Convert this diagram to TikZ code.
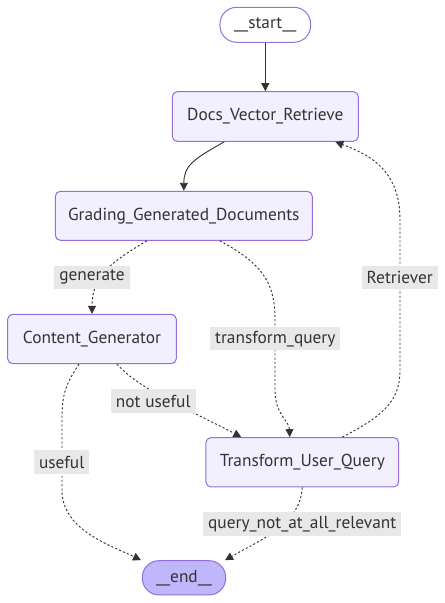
\documentclass[tikz,border=0pt]{standalone}
\usepackage{fontspec}
\setmainfont{PT Sans}
\usetikzlibrary{arrows.meta,calc}
\definecolor{nodefill}{HTML}{F2F0FF}
\definecolor{nodedraw}{HTML}{9370DB}
\definecolor{endfill}{HTML}{BFB6FC}
\definecolor{labelbg}{HTML}{E8E8E8}
\definecolor{ink}{HTML}{333333}
\tikzset{
  box/.style={draw=nodedraw, fill=nodefill, line width=0.75pt, rounded corners=3.75pt, text=ink, font=\fontsize{13pt}{15pt}\selectfont, inner sep=0pt},
  pill/.style={box, rounded corners=12.5pt},
  lbl/.style={fill=labelbg, text=ink, font=\fontsize{13pt}{15pt}\selectfont, inner xsep=3.75pt, inner ysep=0pt, minimum height=17.5pt},
  edge/.style={draw=ink, line width=0.7pt, -{Triangle[length=6pt,width=6pt]}},
  dedge/.style={edge, dash pattern=on 1.6pt off 1.6pt},
}
\begin{document}
\begin{tikzpicture}[x=0.75pt,y=-0.75pt]
\useasboundingbox (0,0) rectangle (445,603);
\node[pill, fill=white, minimum width=68pt, minimum height=26.25pt] (start) at (265.3,24.8) {\_\_start\_\_};
\node[box, minimum width=139.5pt, minimum height=37.2pt] (docs) at (265.3,116.5) {Docs\_Vector\_Retrieve};
\node[box, minimum width=192.75pt, minimum height=36.75pt] (grading) at (183.8,215.8) {Grading\_Generated\_Documents};
\node[box, minimum width=126.5pt, minimum height=37pt] (content) at (92,339) {Content\_Generator};
\node[box, minimum width=144.5pt, minimum height=37pt] (transform) at (302.3,462.3) {Transform\_User\_Query};
\node[pill, fill=endfill, minimum width=62.5pt, minimum height=25.7pt] (end) at (184,577.8) {\_\_end\_\_};

\draw[edge] (start.south) -- (docs.north);
\draw[edge] ($(docs.south)+(-41,0)$) .. controls (192,160) and (184,166) .. (grading.north);
\draw[dedge] ($(grading.south)+(-37,0)$) .. controls (112,262) and (92,275) .. (content.north);
\draw[dedge] ($(grading.south)+(36,0)$) .. controls (265,265) and (275,285) .. (275,320) -- (275,390) .. controls (275,415) and (289,420) .. ($(transform.north)+(-12.5,0)$);
\draw[dedge] ($(content.south)+(25,0)$) .. controls (140,390) and (190,410) .. ($(transform.north)+(-61,0)$);
\draw[dedge] ($(content.south)+(-13,0)$) .. controls (65,385) and (62,395) .. (62,420) -- (62,490) .. controls (62,530) and (110,545) .. ($(end.north)+(-43,0)$);
\draw[dedge] (transform.south) .. controls (300,525) and (260,540) .. ($(end.north)+(41,0)$);
\draw[dedge] ($(transform.north)+(40,0)$) .. controls (385,415) and (400,400) .. (400,370) -- (400,220) .. controls (400,170) and (370,155) .. ($(docs.south)+(70,0)$);

\node[lbl] (lgen) at (92,277.3) {generate};
\node[lbl] (lret) at (399.7,277.3) {Retriever};
\node[lbl] (ltq) at (275.3,338.8) {transform\_query};
\node[lbl] (lnu) at (153.3,401) {not useful};
\node[lbl] (luse) at (61.7,462) {useful};
\node[lbl] (lqn) at (302.2,524) {query\_not\_at\_all\_relevant};
\end{tikzpicture}
\end{document}
